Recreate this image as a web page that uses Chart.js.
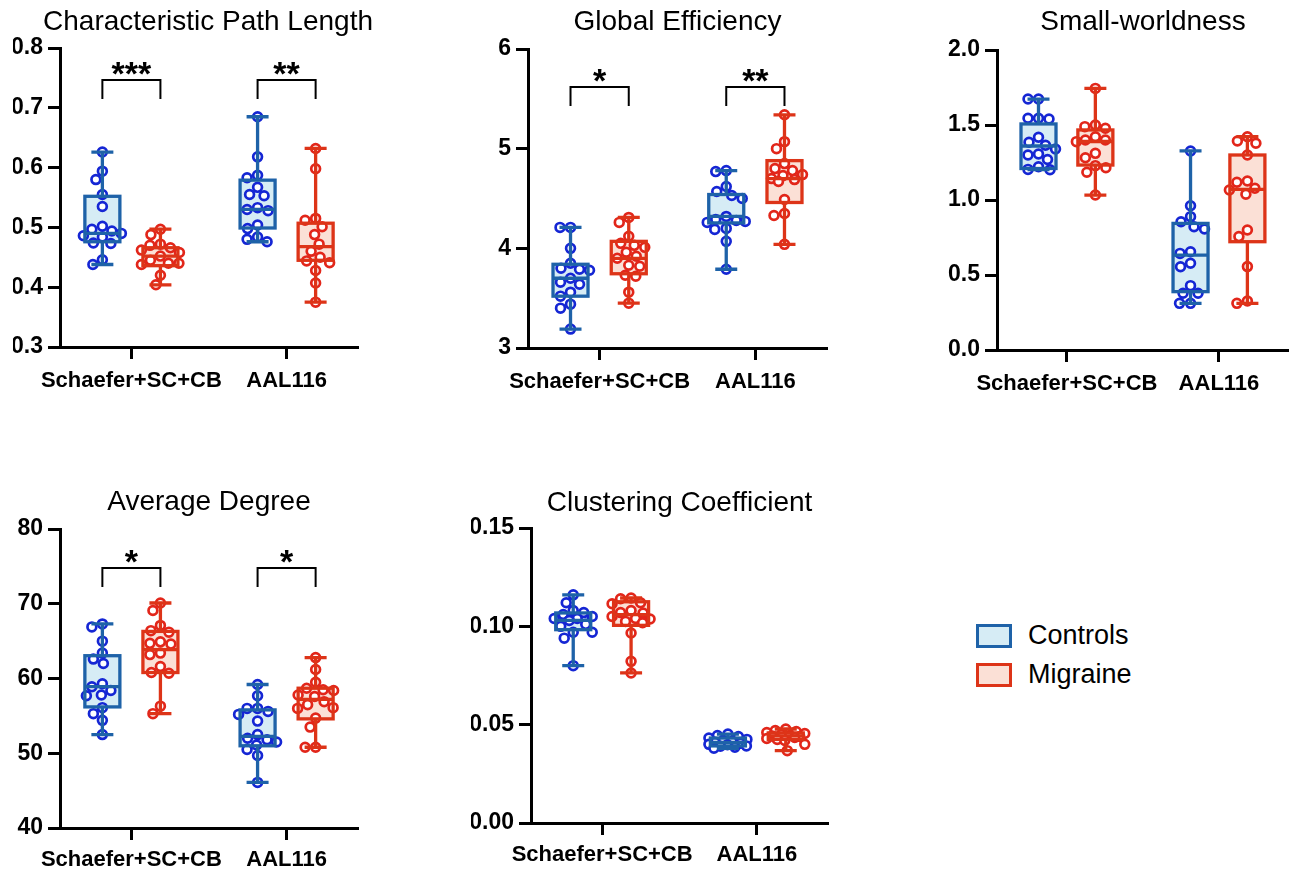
<!DOCTYPE html>
<html>
<head>
<meta charset="utf-8">
<title>Network metrics: Controls vs Migraine</title>
<script src="https://cdn.jsdelivr.net/npm/chart.js@4.4.1/dist/chart.umd.min.js"></script>
<style>
  body { margin: 0; background: #fff; }
  #page { position: relative; width: 1296px; height: 871px; overflow: hidden;
          font-family: "Liberation Sans", Arial, Helvetica, sans-serif; }
  canvas { position: absolute; }
  .legend { position: absolute; left: 976px; top: 616px; }
  .legend-row { display: flex; align-items: center; height: 39px; font-size: 27px; color: #000; }
  .swatch { box-sizing: border-box; width: 36px; height: 24px; border: 3px solid; margin-right: 16px; }
</style>
</head>
<body>
<div id="page">
  <canvas id="cpl" width="403" height="400" style="left:0px;top:0px"></canvas>
  <canvas id="ge" width="380" height="400" style="left:468px;top:0px"></canvas>
  <canvas id="sw" width="359" height="400" style="left:937px;top:0px"></canvas>
  <canvas id="deg" width="380" height="401" style="left:0px;top:470px"></canvas>
  <canvas id="cc" width="380" height="401" style="left:471px;top:470px"></canvas>
  <div class="legend">
    <div class="legend-row"><span class="swatch" style="border-color:#1e62a8;background:#d6ecf5"></span>Controls</div>
    <div class="legend-row"><span class="swatch" style="border-color:#dd3418;background:#fbe0d6"></span>Migraine</div>
  </div>
</div>
<script>
const categories = ["Schaefer+SC+CB", "AAL116"];
const groupNames = ["Controls", "Migraine"];

// Characteristic Path Length
const cplTicks = ["0.3", "0.4", "0.5", "0.6", "0.7", "0.8"];
const cplControlsSchaefer = [0.626, 0.594, 0.580, 0.555, 0.535, 0.502, 0.497, 0.494, 0.490, 0.486, 0.484, 0.474, 0.473, 0.446, 0.438];
const cplMigraineSchaefer = [0.497, 0.488, 0.472, 0.470, 0.466, 0.462, 0.458, 0.452, 0.445, 0.440, 0.440, 0.438, 0.420, 0.404];
const cplControlsAAL = [0.685, 0.618, 0.587, 0.583, 0.567, 0.555, 0.553, 0.533, 0.530, 0.528, 0.504, 0.498, 0.484, 0.480, 0.476];
const cplMigraineAAL = [0.632, 0.598, 0.515, 0.512, 0.501, 0.488, 0.472, 0.460, 0.450, 0.444, 0.441, 0.428, 0.407, 0.375];
// q1, median, q3 per box (Controls/Migraine, Schaefer then AAL)
const cplBoxes = [[0.476, 0.490, 0.552], [0.436, 0.452, 0.466], [0.499, 0.530, 0.579], [0.445, 0.468, 0.507]];
const cplStars = ["***", "**"];

// Global Efficiency
const geTicks = ["3", "4", "5", "6"];
const geControlsSchaefer = [4.21, 4.21, 4.00, 3.85, 3.80, 3.79, 3.78, 3.70, 3.66, 3.64, 3.56, 3.52, 3.44, 3.40, 3.19];
const geMigraineSchaefer = [4.31, 4.26, 4.12, 4.05, 4.03, 4.01, 3.96, 3.92, 3.90, 3.83, 3.82, 3.73, 3.72, 3.56, 3.45];
const geControlsAAL = [4.78, 4.77, 4.62, 4.57, 4.53, 4.50, 4.32, 4.29, 4.28, 4.27, 4.26, 4.20, 4.19, 4.07, 3.79];
const geMigraineAAL = [5.34, 5.07, 5.00, 4.85, 4.80, 4.78, 4.74, 4.73, 4.70, 4.69, 4.67, 4.49, 4.35, 4.33, 4.04];
const geBoxes = [[3.52, 3.70, 3.84], [3.745, 3.90, 4.07], [4.255, 4.32, 4.54], [4.46, 4.70, 4.88]];
const geStars = ["*", "**"];

// Small-worldness
const swTicks = ["0.0", "0.5", "1.0", "1.5", "2.0"];
const swControlsSchaefer = [1.673, 1.673, 1.545, 1.545, 1.540, 1.418, 1.385, 1.365, 1.340, 1.307, 1.300, 1.270, 1.222, 1.204, 1.202];
const swMigraineSchaefer = [1.744, 1.500, 1.489, 1.478, 1.422, 1.400, 1.400, 1.389, 1.311, 1.282, 1.229, 1.215, 1.185, 1.033];
const swControlsAAL = [1.327, 0.962, 0.889, 0.855, 0.822, 0.807, 0.655, 0.644, 0.578, 0.555, 0.429, 0.378, 0.378, 0.311, 0.311];
const swMigraineAAL = [1.422, 1.393, 1.378, 1.300, 1.127, 1.118, 1.078, 1.067, 1.038, 0.800, 0.756, 0.556, 0.327, 0.311];
const swBoxes = [[1.21, 1.36, 1.507], [1.233, 1.39, 1.467], [0.389, 0.633, 0.844], [0.722, 1.071, 1.30]];
const swStars = [];

// Average Degree
const degTicks = ["40", "50", "60", "70", "80"];
const degControlsSchaefer = [67.3, 66.9, 65.0, 63.4, 62.6, 62.0, 59.3, 58.9, 58.4, 57.8, 57.7, 56.1, 55.3, 54.4, 52.5];
const degMigraineSchaefer = [70.1, 69.1, 67.1, 66.4, 66.2, 64.9, 64.7, 64.6, 63.4, 63.2, 61.6, 60.8, 60.7, 56.3, 55.3];
const degControlsAAL = [59.2, 57.7, 56.0, 56.0, 55.6, 55.2, 54.3, 52.5, 52.0, 51.8, 51.5, 51.1, 50.5, 49.7, 46.1];
const degMigraineAAL = [62.8, 61.2, 59.5, 58.7, 58.5, 58.4, 57.8, 57.6, 56.9, 56.5, 56.1, 56.0, 54.7, 53.5, 50.8, 50.8];
const degBoxes = [[56.2, 58.9, 63.05], [60.8, 63.85, 66.3], [51.0, 52.25, 55.8], [54.6, 57.2, 58.7]];
const degStars = ["*", "*"];

// Clustering Coefficient
const ccTicks = ["0.00", "0.05", "0.10", "0.15"];
const ccControlsSchaefer = [0.116, 0.112, 0.108, 0.107, 0.106, 0.105, 0.104, 0.104, 0.103, 0.101, 0.100, 0.097, 0.097, 0.094, 0.080];
const ccMigraineSchaefer = [0.1144, 0.1140, 0.1120, 0.1115, 0.1080, 0.1070, 0.1068, 0.1050, 0.1040, 0.1037, 0.1025, 0.1018, 0.0966, 0.0822, 0.0763];
const ccControlsAAL = [0.0452, 0.0445, 0.0440, 0.0432, 0.0425, 0.0420, 0.0415, 0.0410, 0.0405, 0.0400, 0.0398, 0.0392, 0.0390, 0.0385, 0.0380];
const ccMigraineAAL = [0.0478, 0.0470, 0.0465, 0.0460, 0.0455, 0.0450, 0.0445, 0.0443, 0.0440, 0.0435, 0.0430, 0.0425, 0.0420, 0.0400, 0.0368];
const ccBoxes = [[0.0983, 0.103, 0.1068], [0.1005, 0.106, 0.1125], [0.0392, 0.041, 0.0432], [0.0425, 0.0443, 0.0458]];
const ccStars = [];

const FONT = '"Liberation Sans", Arial, Helvetica, sans-serif';
Chart.defaults.font.family = FONT;
Chart.defaults.color = "#000";

const palette = [
  { point: "#1526d4", line: "#1e62a8", fill: "#d6ecf5" },
  { point: "#e2261a", line: "#dd3418", fill: "#fbe0d6" }
];
const GROUP_SHIFT = 0.187;

// beeswarm: push each point sideways until it clears the ones already placed,
// but never further than maxOff; if crowded, take the least crowded spot
function beeswarm(py, gap, maxOff) {
  const order = py.map((_, i) => i).sort((a, b) => py[a] - py[b]);
  const placed = [];
  const out = [];
  order.forEach(i => {
    let dx = null, bestC = 0, bestD = -1;
    for (let k = 0; ; k++) {
      const c = (k % 2 ? -1 : 1) * Math.ceil(k / 2) * 0.5;
      if (Math.abs(c) > maxOff) break;
      let dmin = Infinity;
      placed.forEach(p => { dmin = Math.min(dmin, Math.hypot(p.x - c, p.y - py[i])); });
      if (dmin >= gap) { dx = c; break; }
      if (dmin > bestD + 0.01) { bestD = dmin; bestC = c; }
    }
    if (dx === null) dx = bestC;
    placed.push({ x: dx, y: py[i] });
    out[i] = dx;
  });
  return out;
}

const boxPlugin = {
  id: "boxes",
  beforeDatasetsDraw(chart) {
    const x = chart.scales.x, y = chart.scales.y, ctx = chart.ctx;
    ctx.save();
    chart.data.datasets.forEach(ds => {
      const cx = x.getPixelForValue(ds.center);
      const top = y.getPixelForValue(ds.box[2]), bot = y.getPixelForValue(ds.box[0]);
      ctx.fillStyle = ds.colors.fill;
      ctx.fillRect(cx - 17.5, top, 35, bot - top);
    });
    ctx.restore();
  },
  afterDatasetsDraw(chart, args, opts) {
    const x = chart.scales.x, y = chart.scales.y, ctx = chart.ctx;
    ctx.save();
    chart.data.datasets.forEach(ds => {
      const vals = ds.data.map(p => p.y);
      const cx = x.getPixelForValue(ds.center);
      const q1 = y.getPixelForValue(ds.box[0]);
      const med = y.getPixelForValue(ds.box[1]);
      const q3 = y.getPixelForValue(ds.box[2]);
      const lo = y.getPixelForValue(Math.min(...vals));
      const hi = y.getPixelForValue(Math.max(...vals));
      ctx.strokeStyle = ds.colors.line;
      ctx.lineWidth = 3.3;
      ctx.strokeRect(cx - 17.5, q3, 35, q1 - q3);
      ctx.beginPath();
      ctx.moveTo(cx - 17.5, med); ctx.lineTo(cx + 17.5, med);
      ctx.moveTo(cx, q3); ctx.lineTo(cx, hi);
      ctx.moveTo(cx, q1); ctx.lineTo(cx, lo);
      ctx.moveTo(cx - 11, hi); ctx.lineTo(cx + 11, hi);
      ctx.moveTo(cx - 11, lo); ctx.lineTo(cx + 11, lo);
      ctx.stroke();
    });

    // significance brackets
    const stars = opts.stars || [];
    ctx.strokeStyle = "#000";
    ctx.fillStyle = "#000";
    ctx.lineWidth = 2;
    ctx.font = "bold 34px " + FONT;
    ctx.textAlign = "center";
    ctx.textBaseline = "alphabetic";
    stars.forEach((s, i) => {
      const x1 = x.getPixelForValue(i - GROUP_SHIFT);
      const x2 = x.getPixelForValue(i + GROUP_SHIFT);
      const yb = chart.chartArea.top + opts.bracketTop;
      ctx.beginPath();
      ctx.moveTo(x1, yb + 19); ctx.lineTo(x1, yb); ctx.lineTo(x2, yb); ctx.lineTo(x2, yb + 19);
      ctx.stroke();
      const m = ctx.measureText(s);
      const target = yb - 11.5;
      ctx.fillText(s, (x1 + x2) / 2, target + (m.actualBoundingBoxAscent - m.actualBoundingBoxDescent) / 2);
    });
    ctx.restore();
  }
};

function spread(chart) {
  const xs = chart.scales.x, ys = chart.scales.y;
  const unit = xs.getPixelForValue(1) - xs.getPixelForValue(0);
  chart.data.datasets.forEach(ds => {
    const py = ds.data.map(p => ys.getPixelForValue(p.y));
    const offs = beeswarm(py, 10.5, 19);
    ds.data.forEach((p, i) => { p.x = ds.center + offs[i] / unit; });
  });
  chart.update("none");
}

function makePanel(id, title, tickLabels, groups, boxes, stars, frame) {
  const tickValues = tickLabels.map(Number);
  const datasets = groups.map((vals, i) => {
    const cat = Math.floor(i / 2), kind = i % 2;
    const center = cat + (kind ? GROUP_SHIFT : -GROUP_SHIFT);
    return {
      label: groupNames[kind] + " " + categories[cat],
      data: vals.map(v => ({ x: center, y: v })),
      center: center,
      box: boxes[i],
      colors: palette[kind],
      pointRadius: 4.4,
      pointBorderWidth: 2.7,
      backgroundColor: "#fff",
      borderColor: palette[kind].point
    };
  });

  const scales = {
    x: {
      type: "linear",
      min: -0.46,
      max: 1.46,
      afterBuildTicks: axis => { axis.ticks = [{ value: 0 }, { value: 1 }]; },
      afterFit: scale => { scale.height = frame.xh; },
      ticks: {
        callback: v => categories[v],
        font: { size: 22, weight: "bold" },
        color: "#000",
        padding: frame.labelPad,
        maxRotation: 0,
        minRotation: 0,
        autoSkip: false
      },
      grid: { drawOnChartArea: false, tickLength: 12, tickWidth: 3, tickColor: "#000" },
      border: { color: "#000", width: 3 }
    },
    y: {
      min: tickValues[0],
      max: tickValues[tickValues.length - 1],
      afterBuildTicks: axis => { axis.ticks = tickValues.map(v => ({ value: v })); },
      afterFit: scale => { scale.width = frame.yw; },
      ticks: {
        callback: (v, i) => tickLabels[i],
        font: { size: 23, weight: "bold" },
        color: "#000",
        padding: 5
      },
      grid: { drawOnChartArea: false, tickLength: 12, tickWidth: 3, tickColor: "#000" },
      border: { color: "#000", width: 3 }
    }
  };
  // empty right-hand axis: keeps the plot narrow while a long title gets the full width
  if (frame.spacer) {
    scales.spacer = {
      position: "right",
      afterFit: scale => { scale.width = frame.spacer; },
      ticks: { display: false },
      grid: { display: false },
      border: { display: false }
    };
  }

  const chart = new Chart(document.getElementById(id), {
    type: "scatter",
    data: { datasets: datasets },
    options: {
      responsive: false,
      animation: false,
      events: [],
      layout: { padding: { left: frame.left || 0, right: frame.right, top: 0, bottom: 0 } },
      scales: scales,
      plugins: {
        legend: { display: false },
        tooltip: { enabled: false },
        title: {
          display: true,
          text: title,
          fullSize: !!frame.spacer,
          color: "#000",
          font: { size: 28, weight: "normal" },
          padding: { top: frame.titleTop, bottom: frame.titleBottom }
        },
        boxes: { stars: stars, bracketTop: frame.bracket }
      }
    },
    plugins: [boxPlugin]
  });
  spread(chart);
  return chart;
}

makePanel("cpl", "Characteristic Path Length", cplTicks,
  [cplControlsSchaefer, cplMigraineSchaefer, cplControlsAAL, cplMigraineAAL], cplBoxes, cplStars,
  { left: 13, right: 0, spacer: 45, xh: 53, yw: 47, titleTop: 5, titleBottom: 9.4, bracket: 32, labelPad: 9 });

makePanel("ge", "Global Efficiency", geTicks,
  [geControlsSchaefer, geMigraineSchaefer, geControlsAAL, geMigraineAAL], geBoxes, geStars,
  { right: 21, xh: 52, yw: 60, titleTop: 5.5, titleBottom: 9.9, bracket: 38, labelPad: 9 });

makePanel("sw", "Small-worldness", swTicks,
  [swControlsSchaefer, swMigraineSchaefer, swControlsAAL, swMigraineAAL], swBoxes, swStars,
  { right: 6, xh: 50, yw: 60, titleTop: 5.5, titleBottom: 10.9, bracket: 38, labelPad: 9 });

makePanel("deg", "Average Degree", degTicks,
  [degControlsSchaefer, degMigraineSchaefer, degControlsAAL, degMigraineAAL], degBoxes, degStars,
  { right: 22, xh: 43, yw: 60, titleTop: 15, titleBottom: 10.4, bracket: 39, labelPad: 7 });

makePanel("cc", "Clustering Coefficient", ccTicks,
  [ccControlsSchaefer, ccMigraineSchaefer, ccControlsAAL, ccMigraineAAL], ccBoxes, ccStars,
  { right: 23, xh: 48, yw: 60, titleTop: 16, titleBottom: 8.4, bracket: 38, labelPad: 7 });
</script>
</body>
</html>
